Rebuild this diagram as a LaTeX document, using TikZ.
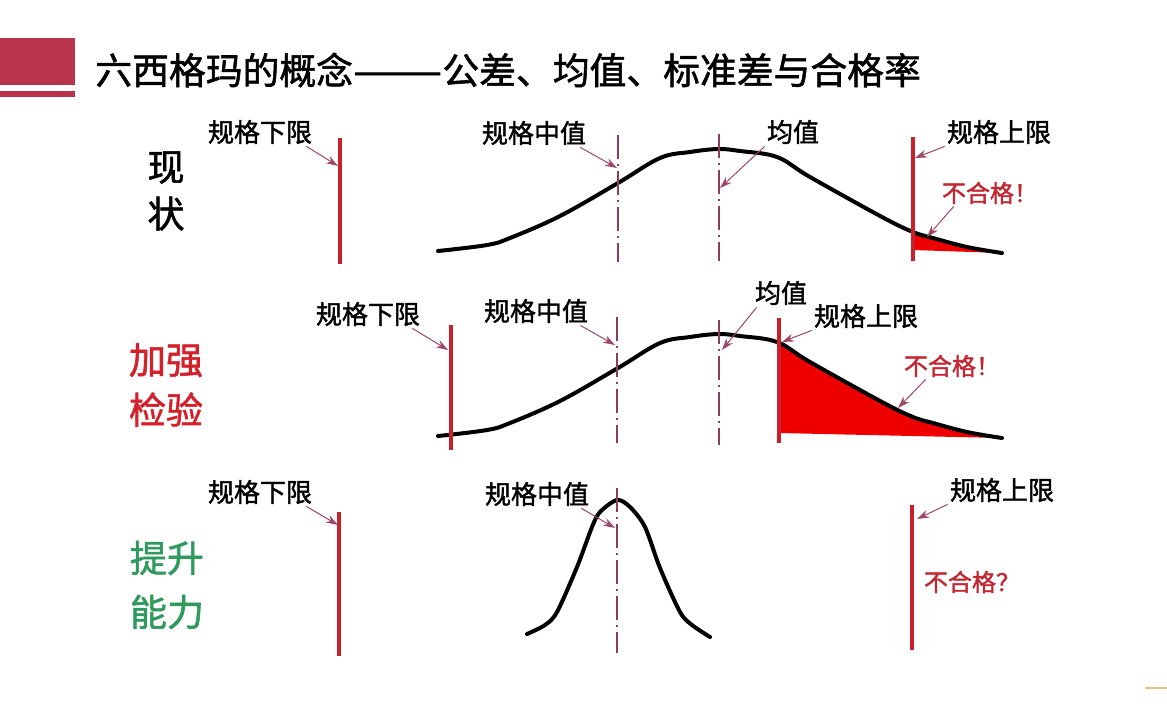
\documentclass[tikz,border=0pt]{standalone}
\usepackage{fontspec}
\setmainfont{Noto Sans CJK SC}[BoldFont={Noto Sans CJK SC}, BoldFeatures={FakeBold=1.5}]
\usetikzlibrary{arrows.meta, positioning}

\definecolor{barred}{HTML}{B8334B}
\definecolor{limred}{HTML}{C8202C}
\definecolor{axismaroon}{HTML}{8E3D57}
\definecolor{ptrcol}{HTML}{9E4766}
\definecolor{ngred}{HTML}{C42630}
\definecolor{fillred}{HTML}{EE0000}
\definecolor{rowred}{HTML}{D4202A}
\definecolor{rowgreen}{HTML}{2F9A5C}
\definecolor{logogold}{HTML}{E6C07E}

\tikzset{
  lbl/.style = {font=\bfseries\fontsize{13}{13}\selectfont, inner sep=1pt},
  ngtext/.style = {text=ngred, font=\bfseries\fontsize{12}{12}\selectfont, inner sep=1pt},
  rowtext/.style = {align=center, font=\bfseries\fontsize{18.5}{#1}\selectfont},
  limit/.style = {limred, line width=2pt},
  centre/.style = {axismaroon, line width=0.8pt,
    dash pattern=on 12pt off 2.5pt on 1pt off 2.5pt},
  bell/.style = {black, line width=2pt, line join=round, line cap=round},
  pointer/.style = {ptrcol, line width=0.5pt, -{Stealth[length=6pt, width=4pt]}}
}

\begin{document}
\begin{tikzpicture}[x=0.5pt, y=-0.5pt]
\useasboundingbox (0,0) rectangle (1167,720);

% header bar and title
\fill[barred] (0,38) rectangle (75,85);
\fill[barred] (0,91) rectangle (75,97);
\node[anchor=west, font=\bfseries\fontsize{18.4}{18}\selectfont, inner sep=0pt] (title) at (95,70)
  {六西格玛的概念\scalebox{1.45}[1]{——}公差、均值、标准差与合格率};

% row labels
\node[rowtext=23.5] (now) at (166,191) {现\\状};
\node[rowtext=25, text=rowred] (check) at (166,385) {加强\\检验};
\node[rowtext=27, text=rowgreen] (improve) at (167,585) {提升\\能力};

%%%%%%%%%%%%%%%%%%%%%%%% first row
\fill[fillred] plot[smooth, tension=0.6] coordinates {(913,232) (933,238) (967,247) (1002,253)}
  -- (913,250) -- cycle;
\draw[bell] plot[smooth, tension=0.6] coordinates {(438,251) (487,245) (510,238) (560,216)
  (618,183) (660,158) (690,152) (718,149) (740,151) (777,157) (810,177) (882,217)
  (913,232) (933,238) (967,247) (1002,253)};
\draw[limit] (340,138) -- (340,264);
\draw[limit] (913,137) -- (913,261);
\draw[centre] (618,135) -- (618,262);
\draw[centre] (719,134) -- (719,261);

\node[lbl] (lsl1) at (260,132) {规格下限};
\node[lbl] (mid1) at (534,133) {规格中值};
\node[lbl] (mean1) at (793,132) {均值};
\node[lbl] (usl1) at (999,132) {规格上限};
\node[ngtext] (ng1) at (990,193) {不合格！};

\coordinate (lsl1tip) at (338,166);
\coordinate (mid1tip) at (617,168);
\coordinate (mean1tip) at (720,188);
\coordinate (usl1tip) at (915,158);
\coordinate (ng1tip) at (927,237);

\draw[pointer] ([xshift=-4pt]lsl1.south east) -- (lsl1tip);
\draw[pointer] ([xshift=-4pt]mid1.south east) -- (mid1tip);
\draw[pointer] (mean1.south west) -- (mean1tip);
\draw[pointer] (usl1.south west) -- (usl1tip);
\draw[pointer] ([xshift=7pt]ng1.south west) -- (ng1tip);

%%%%%%%%%%%%%%%%%%%%%%%% second row
\begin{scope}[yshift=-92.5pt]
\fill[fillred] plot[smooth, tension=0.6] coordinates {(779,158) (810,177) (882,217)
  (913,232) (933,238) (967,247) (1002,253)} -- (779,248) -- cycle;
\draw[bell] plot[smooth, tension=0.6] coordinates {(438,251) (487,245) (510,238) (560,216)
  (618,183) (660,158) (690,152) (718,149) (740,151) (777,157) (810,177) (882,217)
  (913,232) (933,238) (967,247) (1002,253)};
\end{scope}
\draw[limit] (451,325) -- (451,450);
\draw[limit] (779,318) -- (779,443);
\draw[centre] (617,317) -- (617,443);
\draw[centre] (719,320) -- (719,445);

\node[lbl] (lsl2) at (368,314) {规格下限};
\node[lbl] (mid2) at (536,311) {规格中值};
\node[lbl] (mean2) at (781,293) {均值};
\node[lbl] (usl2) at (866,316) {规格上限};
\node[ngtext] (ng2) at (952,366) {不合格！};

\coordinate (lsl2tip) at (448,350);
\coordinate (mid2tip) at (615,345);
\coordinate (mean2tip) at (722,350);
\coordinate (usl2tip) at (782,342);
\coordinate (ng2tip) at (898,408);

\draw[pointer] ([xshift=-5pt]lsl2.south east) -- (lsl2tip);
\draw[pointer] ([xshift=-5pt]mid2.south east) -- (mid2tip);
\draw[pointer] ([xshift=2pt]mean2.south west) -- (mean2tip);
\draw[pointer] (usl2.south west) -- (usl2tip);
\draw[pointer] ([xshift=12pt]ng2.south west) -- (ng2tip);

%%%%%%%%%%%%%%%%%%%%%%%% third row
\draw[bell] plot[smooth, tension=0.5] coordinates {(527,634) (545,625) (557,612) (577,567)
  (592,527) (600,512) (617,500) (630,507) (645,527) (660,568) (680,612) (692,625) (710,637)};
\draw[limit] (339,512) -- (339,656);
\draw[limit] (912,505) -- (912,650);
\draw[centre] (617,488) -- (617,653);

\node[lbl] (lsl3) at (260,492) {规格下限};
\node[lbl] (mid3) at (537,494) {规格中值};
\node[lbl] (usl3) at (1002,490) {规格上限};
\node[ngtext] (ng3) at (972,582) {不合格？};

\coordinate (lsl3tip) at (338,525);
\coordinate (mid3tip) at (615,528);
\coordinate (usl3tip) at (917,519);

\draw[pointer] ([xshift=-4pt]lsl3.south east) -- (lsl3tip);
\draw[pointer] ([xshift=-5pt]mid3.south east) -- (mid3tip);
\draw[pointer] (usl3.south west) -- (usl3tip);

% logo edge
\draw[logogold, line width=1pt] (1145,688) -- (1167,688);
\end{tikzpicture}
\end{document}
